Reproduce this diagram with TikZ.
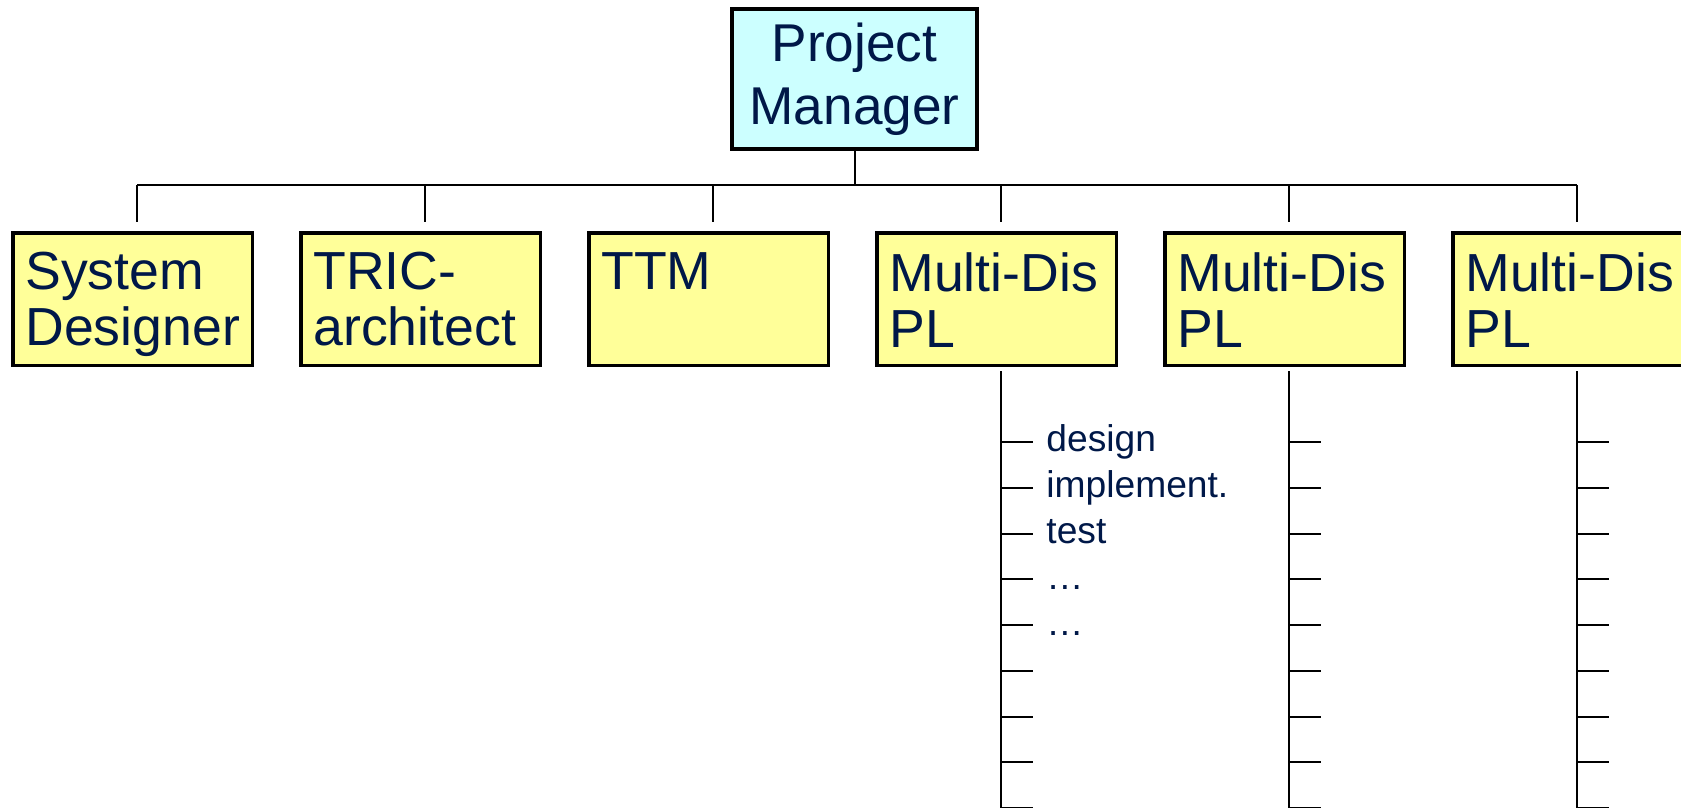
\documentclass[tikz,border=0pt]{standalone}
\usepackage{fontspec}
\setmainfont{Liberation Sans}
\definecolor{navy}{RGB}{0,24,72}
\definecolor{pmcyan}{RGB}{204,255,255}
\definecolor{roleyellow}{RGB}{255,255,153}
\tikzset{
  pmbox/.style={draw,line width=2pt,fill=pmcyan,text=navy,align=center,inner sep=0pt,
    minimum width=122.5pt,minimum height=70pt,font=\fontsize{26.6}{31.5}\selectfont},
  rolebox/.style={draw,line width=1.75pt,fill=roleyellow,inner sep=0pt,
    minimum width=119.75pt,minimum height=66.25pt,anchor=north west},
  roletext/.style={text=navy,align=left,inner sep=0pt,anchor=north west,
    font=\fontsize{26.8}{28}\selectfont},
  tasktext/.style={text=navy,inner sep=0pt,anchor=base west,font=\fontsize{18.6}{20}\selectfont},
  link/.style={line width=1pt},
}
\begin{document}
\begin{tikzpicture}[x=0.5pt,y=-0.5pt]
	\clip (0,0) rectangle (1681,808);
	\node[pmbox] (pm) at (854.5,79) {Project\\Manager};
	% role boxes
	\node[rolebox] (sd) at (11,231) {};
	\node[rolebox] (tric) at (299,231) {};
	\node[rolebox] (ttm) at (587,231) {};
	\node[rolebox] (mdpa) at (875,231) {};
	\node[rolebox] (mdpb) at (1163,231) {};
	\node[rolebox] (mdpc) at (1451,231) {};
	\node[roletext] (sdtxt) at (25,252) {System\\Designer};
	\node[roletext] (trictxt) at (313,252) {TRIC-\\architect};
	\node[roletext] (ttmtxt) at (601,252) {TTM};
	\node[roletext] (mdpatxt) at (889,252) {Multi-Dis\\PL};
	\node[roletext] (mdpbtxt) at (1177,252) {Multi-Dis\\PL};
	\node[roletext] (mdpctxt) at (1465,252) {Multi-Dis\\PL};
	% tree
	\coordinate (barl) at (137,185);
	\coordinate (barr) at (1577,185);
	\draw[link] (barl) -- (barr);
	\draw[link] (pm.south) -- (pm.south |- barl);
	\foreach \b in {sd,tric,ttm,mdpa,mdpb,mdpc}
		\draw[link] ([xshift=2.25pt]\b.north |- barl) -- ([xshift=2.25pt,yshift=4.5pt]\b.north);
	% task lists
	\coordinate (foot) at (0,812);
	\foreach \b in {mdpa,mdpb,mdpc}{
		\draw[link] ([xshift=2.25pt,yshift=-2pt]\b.south) -- ([xshift=2.25pt]\b.south |- foot);
		\foreach \k in {0,...,8}
			\draw[link] ([xshift=2.25pt]\b.south |- {0,442+45.75*\k}) -- ++(32,0);
	}
	\node[tasktext] (design) at (1046,451) {design};
	\node[tasktext] (impl) at (1046,497) {implement.};
	\node[tasktext] (test) at (1046,543) {test};
	\node[tasktext] (etca) at (1046,589) {…};
	\node[tasktext] (etcb) at (1046,635) {…};
\end{tikzpicture}
\end{document}
